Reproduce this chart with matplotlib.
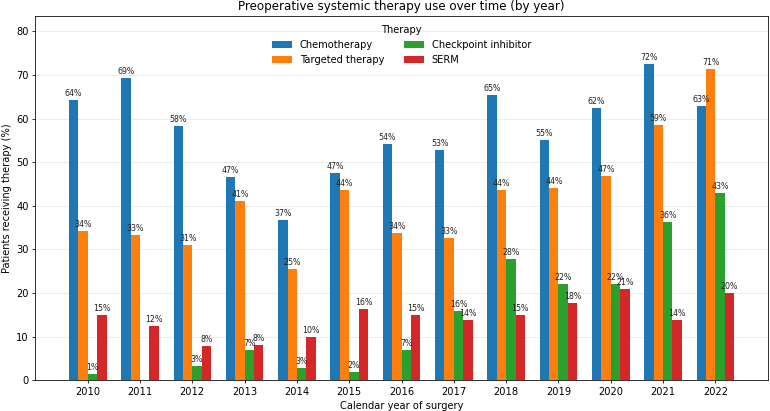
import numpy as np
import matplotlib.pyplot as plt

# share of patients (%) per year
years = [2010, 2011, 2012, 2013, 2014, 2015, 2016, 2017, 2018, 2019, 2020, 2021, 2022]
chemo = [64.2, 69.4, 58.3, 46.7, 36.7, 47.4, 54.1, 52.7, 65.3, 55.0, 62.4, 72.4, 62.8]
targeted = [34.3, 33.3, 30.9, 41.0, 25.4, 43.7, 33.8, 32.6, 43.6, 44.1, 46.8, 58.6, 71.4]
checkpoint = [1.4, 0.0, 3.3, 6.9, 2.9, 1.9, 6.9, 15.9, 27.7, 22.0, 22.0, 36.3, 42.9]
serm = [14.9, 12.4, 7.9, 8.1, 10.0, 16.4, 15.0, 13.8, 15.0, 17.6, 20.9, 13.8, 20.1]

series = {
    "Chemotherapy": chemo,
    "Targeted therapy": targeted,
    "Checkpoint inhibitor": checkpoint,
    "SERM": serm,
}
colors = ["#1f77b4", "#ff7f0e", "#2ca02c", "#d62728"]

x = np.arange(len(years))
w = 0.18

fig, ax = plt.subplots(figsize=(770 / 71, 411 / 71), dpi=71)

for i, (name, vals) in enumerate(series.items()):
    pos = x + (i - 1.5) * w
    bars = ax.bar(pos, vals, width=w, color=colors[i], label=name, zorder=2)
    labels = [f"{v:.0f}%" if v > 0 else "" for v in vals]
    ax.bar_label(bars, labels=labels, padding=2, fontsize=8, color="#222222")

ax.set_xticks(x)
ax.set_xticklabels([str(y) for y in years])
ax.set_xlim(-1, len(years))
ax.set_ylim(0, 83.5)
ax.grid(axis="y", alpha=0.3, zorder=0)
ax.set_xlabel("Calendar year of surgery")
ax.set_ylabel("Patients receiving therapy (%)")
ax.set_title("Preoperative systemic therapy use over time (by year)")
ax.legend(title="Therapy", loc="upper center", ncol=2, frameon=False)

fig.subplots_adjust(left=0.046, right=0.997, top=0.961, bottom=0.075)
plt.savefig("out.png", dpi=71)
